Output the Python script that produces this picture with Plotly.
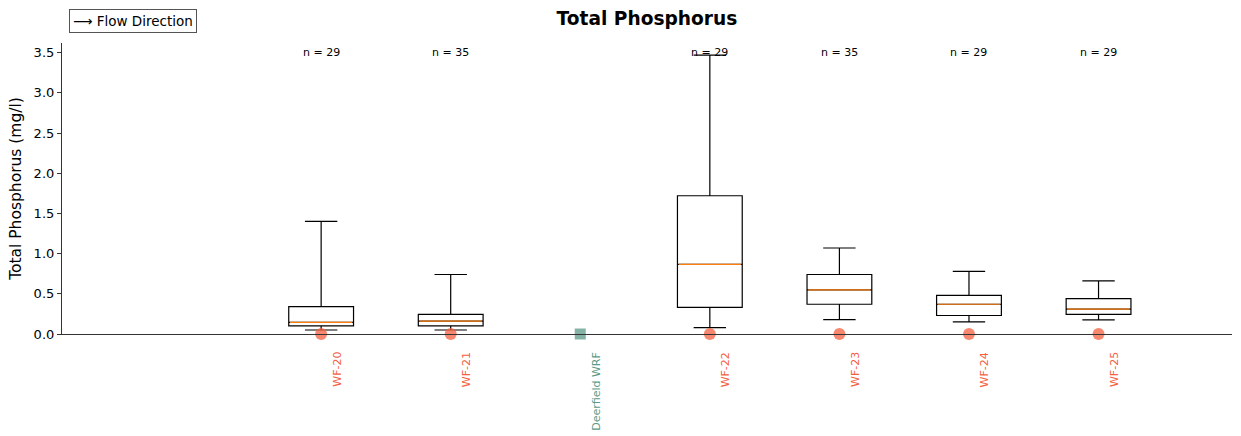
import plotly.graph_objects as go

# Sampling sites along the flow path
sites = ["WF-20", "WF-21", "Deerfield WRF", "WF-22", "WF-23", "WF-24", "WF-25"]
positions = [0, 1, 2, 3, 4, 5, 6]
site_kind = ["station", "station", "plant", "station", "station", "station", "station"]

# Box-plot statistics (mg/l) for stations with samples
box_sites = ["WF-20", "WF-21", "WF-22", "WF-23", "WF-24", "WF-25"]
box_pos = [0, 1, 3, 4, 5, 6]
lower_whisker = [0.05, 0.05, 0.08, 0.18, 0.15, 0.175]
q1 = [0.10, 0.10, 0.33, 0.37, 0.23, 0.245]
median = [0.145, 0.16, 0.865, 0.55, 0.37, 0.31]
q3 = [0.34, 0.245, 1.72, 0.74, 0.48, 0.44]
upper_whisker = [1.40, 0.74, 3.47, 1.07, 0.78, 0.66]
sample_counts = [29, 35, 29, 35, 29, 29]

STATION_COLOR = "#f4603f"
PLANT_COLOR = "#5b9a87"
BOX_WIDTH = 0.5
FONT = "DejaVu Sans"

fig = go.Figure()

for i, name in enumerate(box_sites):
    fig.add_trace(go.Box(
        x=[box_pos[i]], q1=[q1[i]], median=[median[i]], q3=[q3[i]],
        lowerfence=[lower_whisker[i]], upperfence=[upper_whisker[i]],
        width=BOX_WIDTH, whiskerwidth=0.5,
        line=dict(color="black", width=1.2), fillcolor="white",
        boxpoints=False, showlegend=False, name=name,
    ))
    # median line drawn in orange on top of the box
    fig.add_trace(go.Scatter(
        x=[box_pos[i] - BOX_WIDTH / 2 + 0.01, box_pos[i] + BOX_WIDTH / 2 - 0.01],
        y=[median[i], median[i]], mode="lines",
        line=dict(color="#ff7f0e", width=1.2), showlegend=False, hoverinfo="skip",
    ))
    fig.add_annotation(
        x=box_pos[i], y=3.5, text=f"n = {sample_counts[i]}", showarrow=False,
        font=dict(family=FONT, size=11, color="black"),
    )

# Site markers along the zero line
for name, pos, kind in zip(sites, positions, site_kind):
    color = STATION_COLOR if kind == "station" else PLANT_COLOR
    fig.add_trace(go.Scatter(
        x=[pos], y=[0], mode="markers", cliponaxis=False,
        marker=dict(symbol="circle" if kind == "station" else "square",
                    size=12 if kind == "station" else 11,
                    color=color, opacity=0.75, line=dict(width=0)),
        showlegend=False, hoverinfo="skip",
    ))
    fig.add_annotation(
        x=pos, y=0, text=name, showarrow=False, textangle=-90,
        xshift=16, yshift=-16, xanchor="center", yanchor="top",
        font=dict(family=FONT, size=11, color=color),
    )

# Flow direction key
fig.add_annotation(
    xref="paper", yref="paper", x=0.006, y=1.117, xanchor="left", yanchor="top",
    text="⟶ Flow Direction", showarrow=False,
    font=dict(family=FONT, size=13.5, color="black"),
    bordercolor="#555555", borderwidth=1, borderpad=3, bgcolor="white",
)

fig.update_layout(
    width=1241, height=436,
    margin=dict(l=62, r=9, t=43, b=102),
    paper_bgcolor="white", plot_bgcolor="white",
    title=dict(text="<b>Total Phosphorus</b>", x=0.5213, xanchor="center",
               y=0.958, yanchor="middle",
               font=dict(family=FONT, size=18.6, color="black")),
    font=dict(family=FONT),
    xaxis=dict(range=[-2, 7.03], showgrid=False, zeroline=False,
               showticklabels=False, ticks="",
               showline=True, linecolor="#333333", linewidth=1.2),
    yaxis=dict(range=[0, 3.62], showgrid=False, zeroline=False,
               tickvals=[0, 0.5, 1.0, 1.5, 2.0, 2.5, 3.0, 3.5], tickformat=".1f",
               ticks="outside", ticklen=4, tickcolor="#333333",
               tickfont=dict(family=FONT, size=13, color="black"),
               showline=True, linecolor="#333333", linewidth=1.2,
               title=dict(text="Total Phosphorus (mg/l)", standoff=8,
                          font=dict(family=FONT, size=15.5, color="black"))),
)

fig.write_html("out.html")
